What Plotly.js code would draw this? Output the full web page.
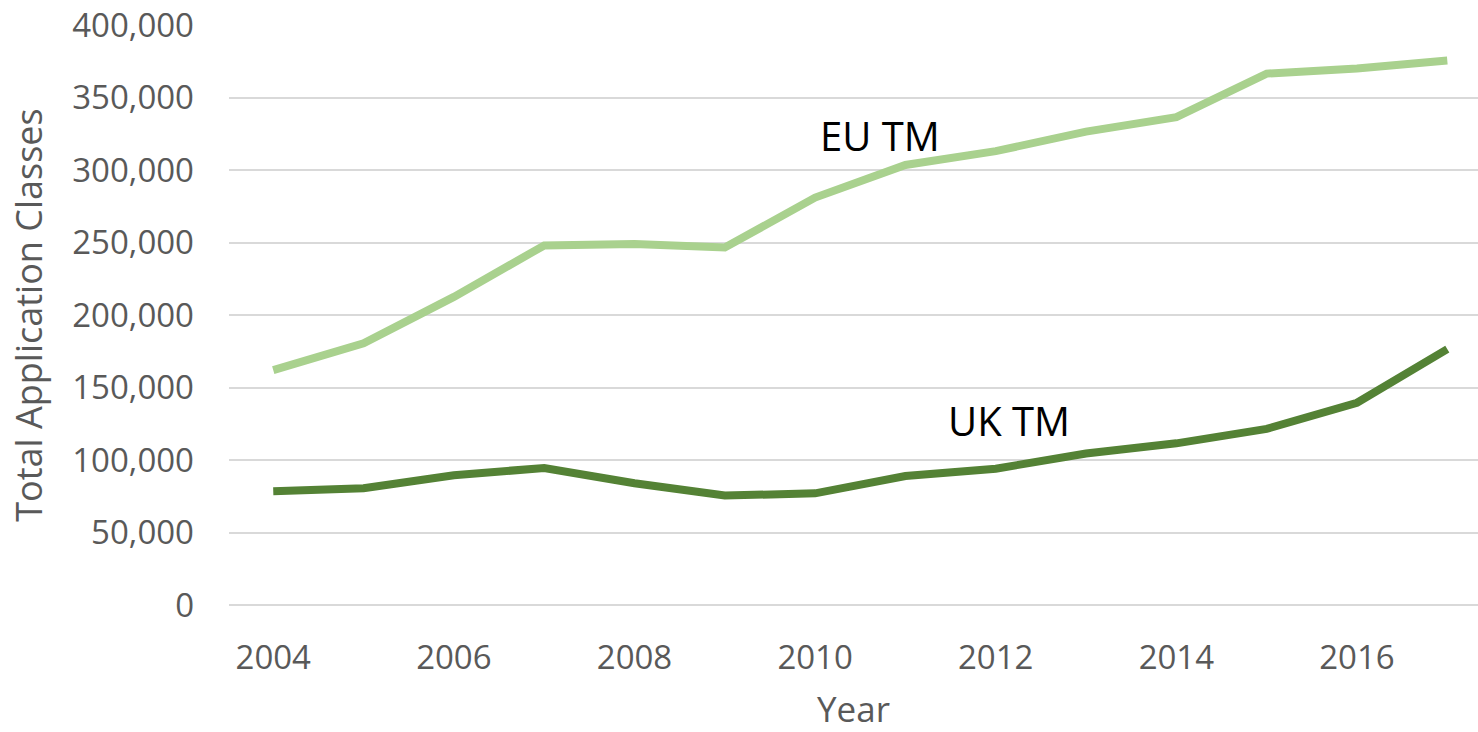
<!DOCTYPE html>
<html>
<head>
<meta charset="utf-8">
<script src="https://cdn.plot.ly/plotly-3.0.1.min.js"></script>
<style>
  html, body { margin: 0; padding: 0; background: #fff; }
  #chart { width: 1478px; height: 732px; }
</style>
</head>
<body>
<div id="chart"></div>
<script>
// years on the x axis
var years = [2004, 2005, 2006, 2007, 2008, 2009, 2010, 2011, 2012, 2013, 2014, 2015, 2016, 2017];

// total application classes
var euTm = [162000, 180500, 212500, 248000, 249000, 246500, 281000, 303500, 313000, 326500, 336500, 366500, 370000, 375500];
var ukTm = [78500, 80500, 89500, 94500, 84000, 75500, 77000, 89000, 94000, 104500, 111500, 121500, 139500, 176500];

var xTicks = [2004, 2006, 2008, 2010, 2012, 2014, 2016];
var yTicks = [0, 50000, 100000, 150000, 200000, 250000, 300000, 350000, 400000];

var greyText = "#595959";
var fontFam = "'Open Sans', 'Liberation Sans', sans-serif";

var traces = [
    {
        x: years, y: euTm,
        type: "scatter", mode: "lines", name: "EU TM",
        line: { color: "#a9d18e", width: 8, shape: "linear" }
    },
    {
        x: years, y: ukTm,
        type: "scatter", mode: "lines", name: "UK TM",
        line: { color: "#548235", width: 8, shape: "linear" }
    }
];

var layout = {
    width: 1478,
    height: 732,
    margin: { l: 229, r: 0, t: 25, b: 127 },
    paper_bgcolor: "#fff",
    plot_bgcolor: "#fff",
    showlegend: false,
    font: { family: fontFam, color: greyText, size: 33 },
    xaxis: {
        range: [2003.51, 2017.34],
        tickvals: xTicks,
        ticktext: xTicks.map(String),
        showgrid: false,
        zeroline: false,
        showline: false,
        ticks: "",
        ticklabelstandoff: 30,
        tickfont: { size: 33, color: greyText },
        title: { text: "Year", font: { size: 35, color: greyText }, standoff: 31 }
    },
    yaxis: {
        range: [0, 400000],
        tickvals: yTicks,
        tickformat: ",d",
        showgrid: true,
        gridcolor: "#d9d9d9",
        gridwidth: 2,
        zeroline: true,
        zerolinecolor: "#d9d9d9",
        zerolinewidth: 2,
        showline: false,
        ticks: "",
        ticklabelstandoff: 34,
        tickfont: { size: 33, color: greyText },
        title: { text: "Total Application Classes", font: { size: 36, color: greyText }, standoff: 18 }
    },
    annotations: [
        {
            x: 2010.72, y: 324000, xref: "x", yref: "y",
            text: "EU TM", showarrow: false,
            font: { family: fontFam, size: 40, color: "#000" }
        },
        {
            x: 2012.15, y: 127500, xref: "x", yref: "y",
            text: "UK TM", showarrow: false,
            font: { family: fontFam, size: 40, color: "#000" }
        }
    ]
};

Plotly.newPlot("chart", traces, layout, { displayModeBar: false, staticPlot: true });
</script>
</body>
</html>
